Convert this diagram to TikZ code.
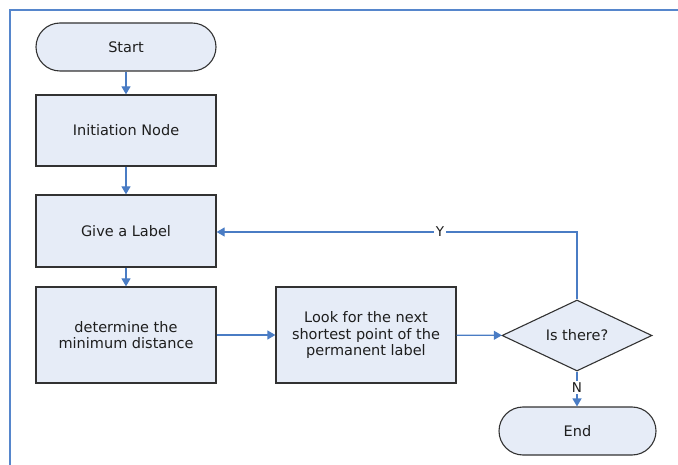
\documentclass[tikz,border=0pt]{standalone}
\usepackage{fontspec}
\setmainfont{DejaVu Sans}
\usetikzlibrary{shapes.geometric,arrows.meta}
\definecolor{boxfill}{RGB}{230,236,247}
\definecolor{boxline}{RGB}{50,50,50}
\definecolor{conn}{RGB}{74,124,196}
\definecolor{frame}{RGB}{86,134,204}
\definecolor{txt}{RGB}{30,30,30}
\tikzset{
  boxfont/.style={font=\fontsize{14.5}{16.5}\selectfont},
  procbox/.style={draw=boxline, line width=1.3pt, fill=boxfill, minimum width=180pt, minimum height=72pt, inner sep=0pt, align=center, text=txt, boxfont},
  termbox/.style={draw=boxline, line width=1.1pt, fill=boxfill, rounded corners=24pt, minimum width=180pt, minimum height=48pt, inner sep=0pt, text=txt, boxfont},
  decbox/.style={diamond, draw=boxline, line width=1.1pt, fill=boxfill, minimum width=150pt, minimum height=71pt, inner sep=0pt, aspect=2.1, text=txt, boxfont},
  flow/.style={draw=conn, line width=1.3pt, -{Triangle[length=8pt,width=9pt]}},
  flowlabel/.style={fill=white, inner sep=1.5pt, text=txt, font=\fontsize{13.5}{15}\selectfont}
}
\begin{document}
\begin{tikzpicture}[x=1pt,y=-1pt]
\useasboundingbox (0,0) rectangle (678,465);
\draw[frame, line width=2pt] (678,10) -- (10,10) -- (10,465);
\node[termbox] (start) at (126,47) {Start};
\node[procbox, minimum height=71pt] (init) at (126,130.5) {Initiation Node};
\node[procbox] (give) at (126,231) {Give a Label};
\node[procbox, minimum height=96pt] (det) at (126,335) {determine the\\minimum distance};
\node[procbox, minimum height=96pt] (look) at (366,335) {Look for the next\\shortest point of the\\permanent label};
\node[decbox] (dec) at (577,335.5) {Is there?};
\node[termbox, minimum width=157pt] (end) at (577.5,431) {End};
\coordinate (corner) at (577,232);
\draw[flow] (start) -- (init);
\draw[flow] (init) -- (give);
\draw[flow] (give) -- (det);
\draw[flow] (det) -- (look);
\draw[flow] (look) -- (dec);
\draw[flow] (dec.north) -- (corner) -- node[flowlabel, pos=0.38] {Y} (give.east |- corner);
\draw[flow] (dec.south) -- node[flowlabel, pos=0.45] {N} (end.north -| dec.south);
\end{tikzpicture}
\end{document}
